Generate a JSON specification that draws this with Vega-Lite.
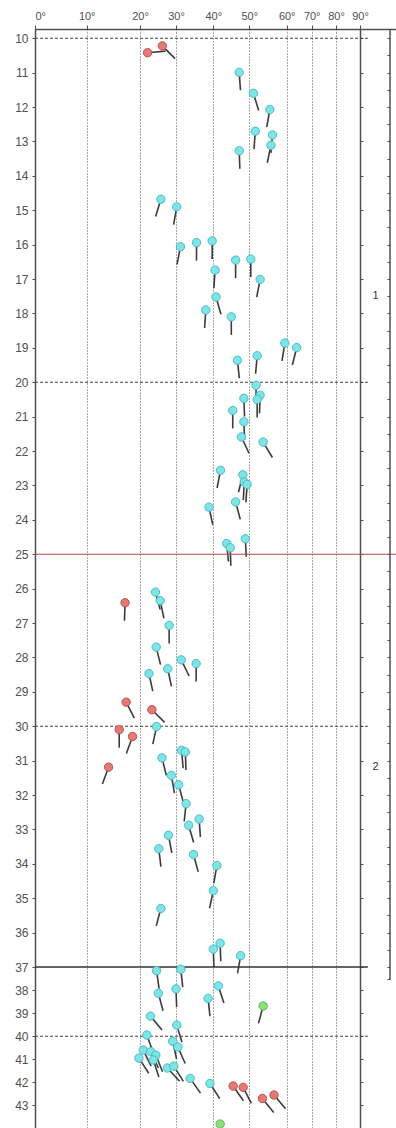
{
  "$schema": "https://vega.github.io/schema/vega-lite/v6.json",
  "width": 361,
  "height": 1099,
  "autosize": {"type": "none"},
  "padding": {"left": 35, "top": 29, "right": 0, "bottom": 0},
  "background": "white",
  "config": {
    "view": {"stroke": null},
    "axis": {"labelFont": "Liberation Sans", "labelColor": "#505050", "domainColor": "#505050", "tickColor": "#505050"}
  },
  "datasets": {
    "tadpoles": [
      {"depth": 10.42, "dip": 22.1, "azi": 85, "type": "b"},
      {"depth": 10.22, "dip": 26.2, "azi": 135, "type": "b"},
      {"depth": 26.41, "dip": 17.2, "azi": 182, "type": "b"},
      {"depth": 29.30, "dip": 17.4, "azi": 153, "type": "b"},
      {"depth": 29.52, "dip": 23.3, "azi": 135, "type": "b"},
      {"depth": 30.10, "dip": 16.1, "azi": 180, "type": "b"},
      {"depth": 30.30, "dip": 18.6, "azi": 200, "type": "b"},
      {"depth": 31.19, "dip": 14.1, "azi": 200, "type": "b"},
      {"depth": 42.16, "dip": 45.5, "azi": 145, "type": "b"},
      {"depth": 42.22, "dip": 48.3, "azi": 153, "type": "b"},
      {"depth": 42.70, "dip": 53.5, "azi": 141, "type": "b"},
      {"depth": 42.55, "dip": 56.6, "azi": 140, "type": "b"},
      {"depth": 38.69, "dip": 53.7, "azi": 195, "type": "c"},
      {"depth": 43.81, "dip": 41.9, "azi": 180, "type": "c"},
      {"depth": 10.99, "dip": 47.2, "azi": 176, "type": "a"},
      {"depth": 11.60, "dip": 51.1, "azi": 163, "type": "a"},
      {"depth": 12.07, "dip": 55.5, "azi": 190, "type": "a"},
      {"depth": 12.70, "dip": 51.6, "azi": 184, "type": "a"},
      {"depth": 12.81, "dip": 56.2, "azi": 185, "type": "a"},
      {"depth": 13.11, "dip": 55.8, "azi": 192, "type": "a"},
      {"depth": 13.27, "dip": 47.2, "azi": 178, "type": "a"},
      {"depth": 14.68, "dip": 25.8, "azi": 197, "type": "a"},
      {"depth": 14.90, "dip": 30.2, "azi": 190, "type": "a"},
      {"depth": 16.06, "dip": 31.2, "azi": 191, "type": "a"},
      {"depth": 15.94, "dip": 35.5, "azi": 180, "type": "a"},
      {"depth": 15.89, "dip": 39.7, "azi": 180, "type": "a"},
      {"depth": 16.45, "dip": 46.2, "azi": 180, "type": "a"},
      {"depth": 16.42, "dip": 50.4, "azi": 180, "type": "a"},
      {"depth": 16.74, "dip": 40.5, "azi": 184, "type": "a"},
      {"depth": 17.01, "dip": 52.9, "azi": 191, "type": "a"},
      {"depth": 17.52, "dip": 40.75, "azi": 164, "type": "a"},
      {"depth": 17.90, "dip": 38.0, "azi": 184, "type": "a"},
      {"depth": 18.10, "dip": 45.0, "azi": 180, "type": "a"},
      {"depth": 19.36, "dip": 46.7, "azi": 174, "type": "a"},
      {"depth": 19.23, "dip": 52.1, "azi": 185, "type": "a"},
      {"depth": 18.86, "dip": 59.5, "azi": 189, "type": "a"},
      {"depth": 18.99, "dip": 64.0, "azi": 194, "type": "a"},
      {"depth": 20.09, "dip": 51.8, "azi": 180, "type": "a"},
      {"depth": 20.38, "dip": 52.9, "azi": 182, "type": "a"},
      {"depth": 20.50, "dip": 52.1, "azi": 180, "type": "a"},
      {"depth": 20.47, "dip": 48.5, "azi": 178, "type": "a"},
      {"depth": 20.82, "dip": 45.4, "azi": 180, "type": "a"},
      {"depth": 21.15, "dip": 48.5, "azi": 178, "type": "a"},
      {"depth": 21.59, "dip": 47.8, "azi": 155, "type": "a"},
      {"depth": 21.74, "dip": 53.7, "azi": 149, "type": "a"},
      {"depth": 22.56, "dip": 42.0, "azi": 191, "type": "a"},
      {"depth": 22.69, "dip": 48.2, "azi": 194, "type": "a"},
      {"depth": 22.90, "dip": 48.6, "azi": 183, "type": "a"},
      {"depth": 22.97, "dip": 49.4, "azi": 184, "type": "a"},
      {"depth": 23.63, "dip": 38.85, "azi": 168, "type": "a"},
      {"depth": 23.48, "dip": 46.2, "azi": 165, "type": "a"},
      {"depth": 24.69, "dip": 43.7, "azi": 174, "type": "a"},
      {"depth": 24.81, "dip": 44.7, "azi": 178, "type": "a"},
      {"depth": 24.55, "dip": 48.9, "azi": 177, "type": "a"},
      {"depth": 26.10, "dip": 24.3, "azi": 165, "type": "a"},
      {"depth": 26.35, "dip": 25.6, "azi": 168, "type": "a"},
      {"depth": 27.07, "dip": 28.1, "azi": 180, "type": "a"},
      {"depth": 27.70, "dip": 24.5, "azi": 166, "type": "a"},
      {"depth": 28.33, "dip": 27.7, "azi": 168, "type": "a"},
      {"depth": 28.07, "dip": 31.4, "azi": 154, "type": "a"},
      {"depth": 28.18, "dip": 35.4, "azi": 180, "type": "a"},
      {"depth": 28.47, "dip": 22.5, "azi": 168, "type": "a"},
      {"depth": 30.01, "dip": 24.6, "azi": 192, "type": "a"},
      {"depth": 30.70, "dip": 31.5, "azi": 175, "type": "a"},
      {"depth": 30.75, "dip": 32.5, "azi": 178, "type": "a"},
      {"depth": 30.92, "dip": 26.1, "azi": 166, "type": "a"},
      {"depth": 31.43, "dip": 28.7, "azi": 170, "type": "a"},
      {"depth": 31.70, "dip": 30.7, "azi": 165, "type": "a"},
      {"depth": 32.25, "dip": 32.7, "azi": 186, "type": "a"},
      {"depth": 32.70, "dip": 36.2, "azi": 176, "type": "a"},
      {"depth": 32.88, "dip": 33.4, "azi": 164, "type": "a"},
      {"depth": 33.17, "dip": 27.9, "azi": 169, "type": "a"},
      {"depth": 33.56, "dip": 25.2, "azi": 173, "type": "a"},
      {"depth": 33.73, "dip": 34.7, "azi": 165, "type": "a"},
      {"depth": 34.05, "dip": 41.0, "azi": 190, "type": "a"},
      {"depth": 34.78, "dip": 40.0, "azi": 192, "type": "a"},
      {"depth": 35.30, "dip": 25.8, "azi": 195, "type": "a"},
      {"depth": 36.48, "dip": 40.0, "azi": 178, "type": "a"},
      {"depth": 36.31, "dip": 41.9, "azi": 178, "type": "a"},
      {"depth": 36.67, "dip": 47.6, "azi": 190, "type": "a"},
      {"depth": 37.16, "dip": 24.6, "azi": 172, "type": "a"},
      {"depth": 37.10, "dip": 31.3, "azi": 174, "type": "a"},
      {"depth": 38.14, "dip": 25.1, "azi": 165, "type": "a"},
      {"depth": 37.95, "dip": 30.0, "azi": 178, "type": "a"},
      {"depth": 37.82, "dip": 41.4, "azi": 162, "type": "a"},
      {"depth": 38.36, "dip": 38.6, "azi": 174, "type": "a"},
      {"depth": 39.13, "dip": 22.9, "azi": 140, "type": "a"},
      {"depth": 39.52, "dip": 30.2, "azi": 163, "type": "a"},
      {"depth": 39.95, "dip": 21.9, "azi": 160, "type": "a"},
      {"depth": 40.22, "dip": 29.1, "azi": 168, "type": "a"},
      {"depth": 40.47, "dip": 30.5, "azi": 156, "type": "a"},
      {"depth": 40.60, "dip": 20.9, "azi": 154, "type": "a"},
      {"depth": 40.67, "dip": 23.0, "azi": 155, "type": "a"},
      {"depth": 40.82, "dip": 24.4, "azi": 158, "type": "a"},
      {"depth": 40.95, "dip": 19.8, "azi": 147, "type": "a"},
      {"depth": 41.03, "dip": 23.7, "azi": 162, "type": "a"},
      {"depth": 41.38, "dip": 27.6, "azi": 137, "type": "a"},
      {"depth": 41.30, "dip": 29.4, "azi": 148, "type": "a"},
      {"depth": 41.83, "dip": 33.8, "azi": 145, "type": "a"},
      {"depth": 42.05, "dip": 39.1, "azi": 147, "type": "a"}
    ],
    "zones": [
      {"zone": "1", "mid": 17.5},
      {"zone": "2", "mid": 31.2}
    ],
    "boundaries": [
      {"depth": 10},
      {"depth": 20},
      {"depth": 30},
      {"depth": 40}
    ],
    "one": [{}]
  },
  "resolve": {"axis": {"x": "independent", "y": "independent"}},
  "layer": [
    {
      "data": {"name": "tadpoles"},
      "mark": {"type": "point", "shape": "M0,0L0,-1", "filled": false, "stroke": "#3c3c3c", "strokeWidth": 1.6, "size": 1296, "opacity": 1},
      "encoding": {
        "x": {
          "field": "dip", "type": "quantitative",
          "scale": {"domain": [0, 10, 20, 30, 40, 50, 60, 70, 80, 90, 100], "range": [0, 51.7, 105, 141, 178.3, 214.3, 251.7, 276.7, 301, 325, 361], "zero": false, "nice": false},
          "axis": {
            "orient": "top", "values": [0, 10, 20, 30, 40, 50, 60, 70, 80, 90],
            "labelExpr": "datum.value + '°'", "labelFontSize": 11, "labelPadding": 4, "tickSize": 4,
            "domainWidth": 1.5, "grid": true, "gridColor": "#555555", "gridDash": [1, 2], "gridWidth": 1, "title": null
          }
        },
        "y": {
          "field": "depth", "type": "quantitative",
          "scale": {"domain": [9.73, 37, 43.98], "range": [0, 938, 1099], "zero": false, "nice": false},
          "axis": {
            "orient": "left", "values": [10, 11, 12, 13, 14, 15, 16, 17, 18, 19, 20, 21, 22, 23, 24, 25, 26, 27, 28, 29, 30, 31, 32, 33, 34, 35, 36, 37, 38, 39, 40, 41, 42, 43],
            "labelFontSize": 12, "labelPadding": 4, "tickSize": 3, "domainWidth": 1.5, "grid": false, "title": null
          }
        },
        "angle": {"field": "azi", "type": "quantitative", "scale": null}
      }
    },
    {
      "data": {"name": "boundaries"},
      "mark": {"type": "rule", "stroke": "#404040", "strokeWidth": 1.1, "strokeDash": [3, 2]},
      "encoding": {
        "x": {"datum": 0, "type": "quantitative", "axis": null},
        "x2": {"datum": 92.2},
        "y": {
          "field": "depth", "type": "quantitative",
          "axis": {
            "orient": "right", "offset": -36, "values": [10, 11, 12, 13, 14, 15, 16, 17, 18, 19, 20, 21, 22, 23, 24, 25, 26, 27, 28, 29, 30, 31, 32, 33, 34, 35, 36, 37, 38, 39, 40, 41, 42, 43],
            "labels": false, "tickSize": 3, "domainWidth": 1.5, "grid": false, "title": null
          }
        }
      }
    },
    {
      "data": {"name": "one"},
      "mark": {"type": "rule", "stroke": "#b04a44", "strokeWidth": 1},
      "encoding": {
        "x": {"datum": 0, "type": "quantitative", "axis": null},
        "x2": {"datum": 100},
        "y": {"datum": 25, "type": "quantitative", "axis": null}
      }
    },
    {
      "data": {"name": "one"},
      "mark": {"type": "rule", "stroke": "#333333", "strokeWidth": 1.3},
      "encoding": {
        "x": {"datum": 0, "type": "quantitative", "axis": null},
        "x2": {"datum": 92.2},
        "y": {"datum": 37, "type": "quantitative", "axis": null}
      }
    },
    {
      "data": {"name": "one"},
      "mark": {"type": "rule", "stroke": "#505050", "strokeWidth": 1.5},
      "encoding": {
        "x": {"datum": 98.33, "type": "quantitative", "axis": null},
        "y": {"datum": 9.73, "type": "quantitative", "axis": null},
        "y2": {"datum": 37.55}
      }
    },
    {
      "data": {"name": "zones"},
      "mark": {"type": "text", "font": "Liberation Sans", "fontSize": 11, "color": "#333333"},
      "encoding": {
        "x": {"datum": 94.3, "type": "quantitative", "axis": null},
        "y": {"field": "mid", "type": "quantitative", "axis": null},
        "text": {"field": "zone"}
      }
    },
    {
      "data": {"name": "tadpoles"},
      "mark": {"type": "circle", "size": 70, "opacity": 1, "strokeWidth": 1},
      "encoding": {
        "x": {"field": "dip", "type": "quantitative", "axis": null},
        "y": {
          "field": "depth", "type": "quantitative",
          "axis": {
            "orient": "right", "offset": -9, "domain": false,
            "values": [10, 10.5, 11, 11.5, 12, 12.5, 13, 13.5, 14, 14.5, 15, 15.5, 16, 16.5, 17, 17.5, 18, 18.5, 19, 19.5, 20, 20.5, 21, 21.5, 22, 22.5, 23, 23.5, 24, 24.5, 25, 25.5, 26, 26.5, 27, 27.5, 28, 28.5, 29, 29.5, 30, 30.5, 31, 31.5, 32, 32.5, 33, 33.5, 34, 34.5, 35, 35.5, 36, 36.5, 37, 37.5],
            "labels": false, "tickSize": 3, "grid": false, "title": null
          }
        },
        "fill": {"field": "type", "type": "nominal", "scale": {"domain": ["a", "b", "c"], "range": ["#80e4e6", "#e27a78", "#8ee07c"]}, "legend": null},
        "stroke": {"field": "type", "type": "nominal", "scale": {"domain": ["a", "b", "c"], "range": ["#46bfc4", "#c0504c", "#5cb84e"]}, "legend": null}
      }
    }
  ]
}
